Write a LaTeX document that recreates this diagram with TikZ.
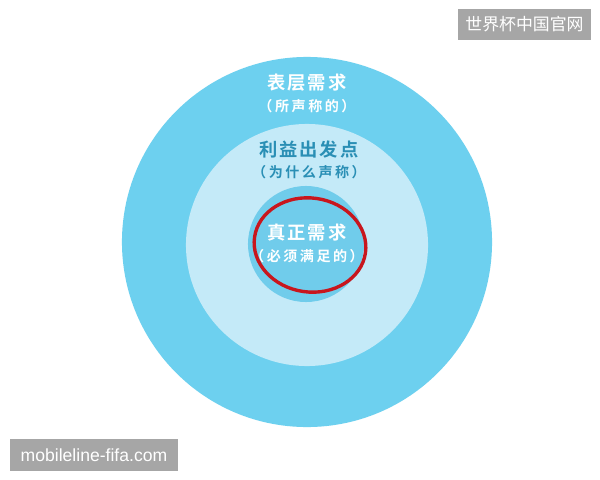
\documentclass[tikz,border=0pt]{standalone}
\usepackage{fontspec}
\setmainfont{Noto Sans CJK SC}
\newfontfamily\cjkbold[LetterSpace=10]{Noto Sans CJK SC Bold}
\newfontfamily\cjksub[LetterSpace=18]{Noto Sans CJK SC Bold}
\newfontfamily\wmfont{Liberation Sans}
\usetikzlibrary{positioning}
\definecolor{outerblue}{HTML}{6DD0EF}
\definecolor{midblue}{HTML}{C4EAF8}
\definecolor{innerblue}{HTML}{70CCEB}
\definecolor{tealtext}{HTML}{2A8FB5}
\definecolor{ringred}{HTML}{C8161D}
\definecolor{markgray}{HTML}{A6A6A6}

\begin{document}
\begin{tikzpicture}[x=0.025cm,y=-0.025cm,
  every node/.style={inner sep=0pt},
  disc/.style={shape=circle,draw=none},
  title/.style={font=\cjkbold\fontsize{13}{13}\selectfont},
  sub/.style={font=\cjksub\fontsize{10}{10}\selectfont},
  wmbox/.style={fill=markgray,text=white,minimum height=0.775cm,inner xsep=5pt},
]
	\fill[white] (0,0) rectangle (600,480);
	\useasboundingbox (0,0) rectangle (600,480);
	    % create the nodes
		    \node[disc,fill=outerblue,minimum size=9.25cm] (outer) at (307,242) {}; %surface
		    \node[disc,fill=midblue,minimum size=6.05cm] (middle) at (307,245) {}; %interest
		    \node[disc,fill=innerblue,minimum size=2.9cm] (inner) at (306,244) {}; %real need
		    % labels
		    \node[title,text=white] (t1) at (307,83) {表层需求};
		    \node[sub,text=white] (s1) at (307,106) {（所声称的）};
		    \node[title,text=tealtext] (t2) at (309,149) {利益出发点};
		    \node[sub,text=tealtext] (s2) at (309,172) {（为什么声称）};
		    \node[title,text=white] (t3) at (307,233) {真正需求};
		    \node[sub,text=white] (s3) at (307,256) {（必须满足的）};
		    % red ring
		    \draw[ringred,line width=2.4pt,rotate around={-8:(310,245)}] (310,245) ellipse (56 and 47);
		    % watermarks
		    \node[wmbox,font=\fontsize{12}{12}\selectfont,minimum width=3.275cm] (wm1) at (524.5,24.5) {世界杯中国官网};
		    \node[wmbox,font=\wmfont\fontsize{12.5}{12.5}\selectfont,minimum width=4.2cm] (wm2) at (94,455) {mobileline-fifa.com};
		\end{tikzpicture}
\end{document}
